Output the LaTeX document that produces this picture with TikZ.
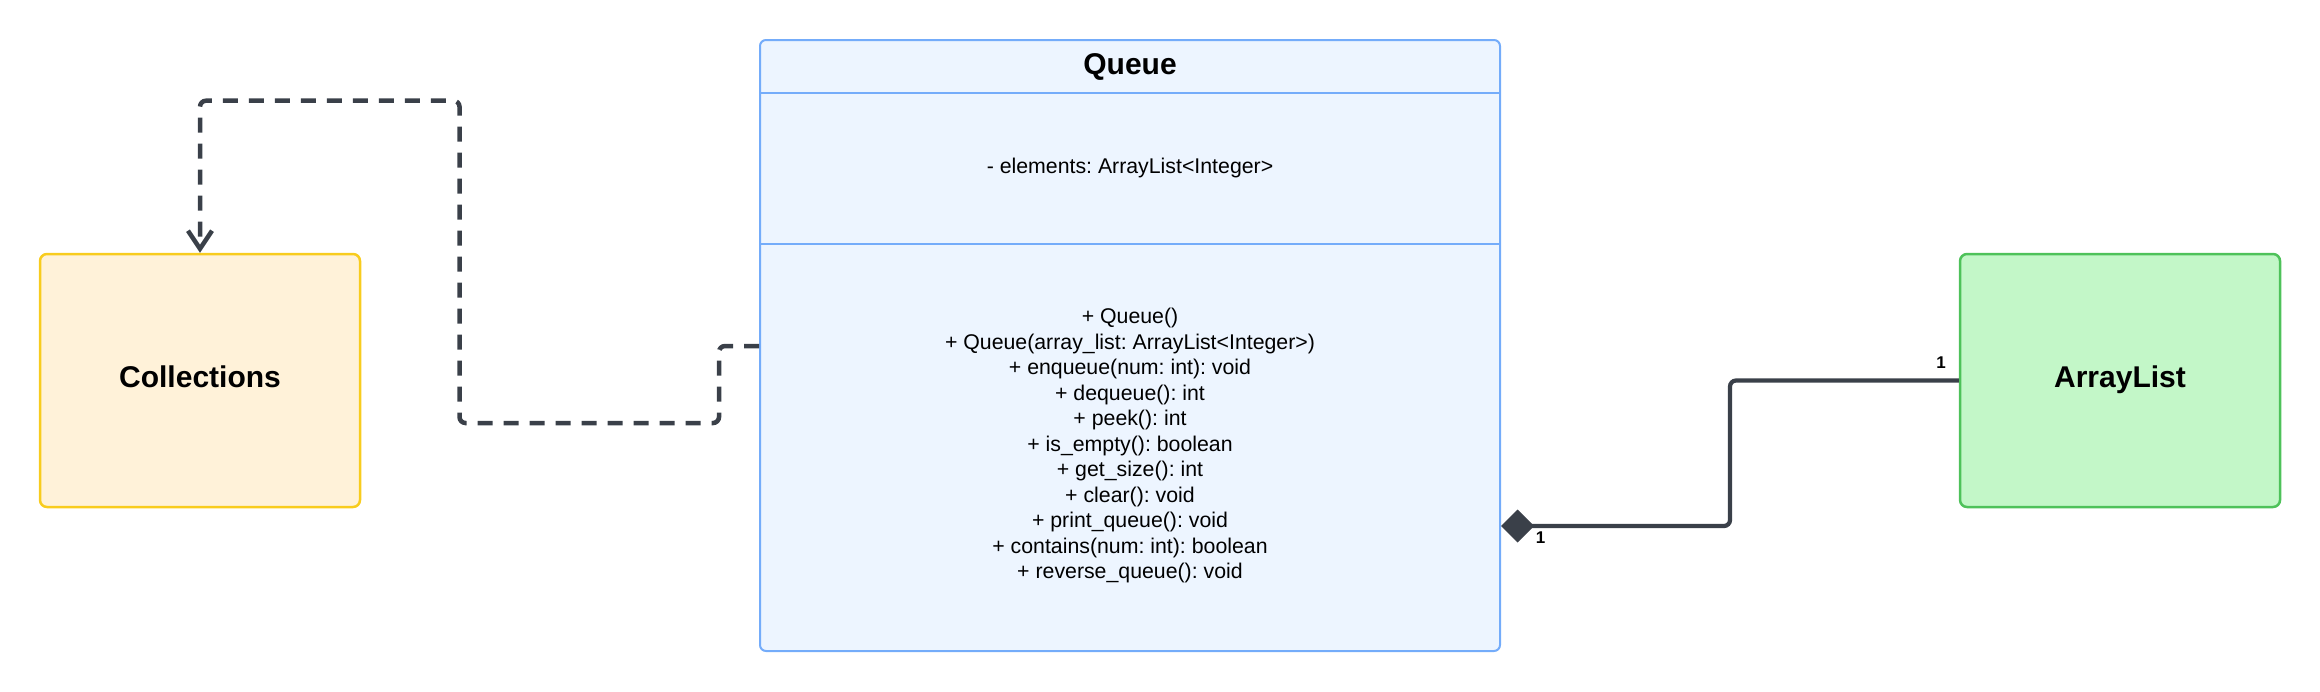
\documentclass[tikz,border=0pt]{standalone}
\usepackage{fontspec}
\setmainfont{Liberation Sans}
\usetikzlibrary{arrows.meta}
\frenchspacing
\definecolor{qfill}{HTML}{EDF5FF}
\definecolor{qborder}{HTML}{74ACFA}
\definecolor{cfill}{HTML}{FFF2D9}
\definecolor{cborder}{HTML}{F8CC1E}
\definecolor{afill}{HTML}{C3F7C8}
\definecolor{aborder}{HTML}{4EC25A}
\definecolor{linec}{HTML}{3A4049}
\tikzset{
  classbox/.style={draw=qborder, fill=qfill, line width=2pt, rounded corners=6pt, inner sep=0pt},
  collbox/.style={draw=cborder, fill=cfill, line width=2.5pt, rounded corners=7pt, inner sep=0pt,
    minimum width=320pt, minimum height=253pt, text height=22pt, text depth=9pt,
    font=\bfseries\fontsize{30}{36}\selectfont},
  listbox/.style={draw=aborder, fill=afill, line width=2.5pt, rounded corners=7pt, inner sep=0pt,
    minimum width=320pt, minimum height=253pt, text height=22pt, text depth=9pt,
    font=\bfseries\fontsize{30}{36}\selectfont},
  sepline/.style={draw=qborder, line width=2pt},
  titletext/.style={font=\bfseries\fontsize{30}{36}\selectfont, inner sep=0pt, anchor=base},
  membertext/.style={font=\fontsize{21.3}{25.5}\selectfont, align=center, inner sep=0pt},
  dep/.style={draw=linec, line width=4.5pt, dash pattern=on 15pt off 11pt, rounded corners=6pt,
    -{Straight Barb[length=18pt,width=24pt]}},
  comp/.style={draw=linec, line width=4.2pt, rounded corners=6pt,
    {Diamond[length=33pt,width=33pt,line width=1pt]}-},
  mult/.style={font=\bfseries\fontsize{17}{20}\selectfont, inner sep=0pt}
}
\begin{document}
\begin{tikzpicture}[x=1pt,y=-1pt]
\useasboundingbox (0,0) rectangle (2320,691);
% Queue class
\node[classbox, minimum width=740pt, minimum height=611pt] (queue) at (1130,345.5) {};
\coordinate (s1) at (1130,93);
\coordinate (s2) at (1130,244);
\draw[sepline] (queue.west |- s1) -- (queue.east |- s1);
\draw[sepline] (queue.west |- s2) -- (queue.east |- s2);
\node[titletext] (qtitle) at (1130,74) {Queue};
\node[membertext] (qattr) at (1130,168) {- elements: ArrayList<Integer>};
\node[membertext] (qmeth) at (1130,445.5) {+ Queue()\\
+ Queue(array\_list: ArrayList<Integer>)\\
+ enqueue(num: int): void\\
+ dequeue(): int\\
+ peek(): int\\
+ is\_empty(): boolean\\
+ get\_size(): int\\
+ clear(): void\\
+ print\_queue(): void\\
+ contains(num: int): boolean\\
+ reverse\_queue(): void};
% Other classes
\node[collbox] (coll) at (200,380.5) {Collections};
\node[listbox] (alist) at (2120,380.5) {ArrayList};
% Dependency connector
\coordinate (dA) at (719,346);
\coordinate (dB) at (719,423);
\coordinate (dC) at (459.5,423);
\coordinate (dD) at (459.5,100.7);
\coordinate (dE) at (200,100.7);
\draw[dep] (queue.west |- dA) -- (dA) -- (dB) -- (dC) -- (dD) -- (dE) -- (coll.north);
% Composition connector
\coordinate (cA) at (1730,526);
\coordinate (cB) at (1730,380.5);
\draw[comp] (queue.east |- cA) -- (cA) -- (cB) -- (alist.west |- cB);
\node[mult] (m1) at (1540.5,538) {1};
\node[mult] (m2) at (1941,363) {1};
\end{tikzpicture}
\end{document}
